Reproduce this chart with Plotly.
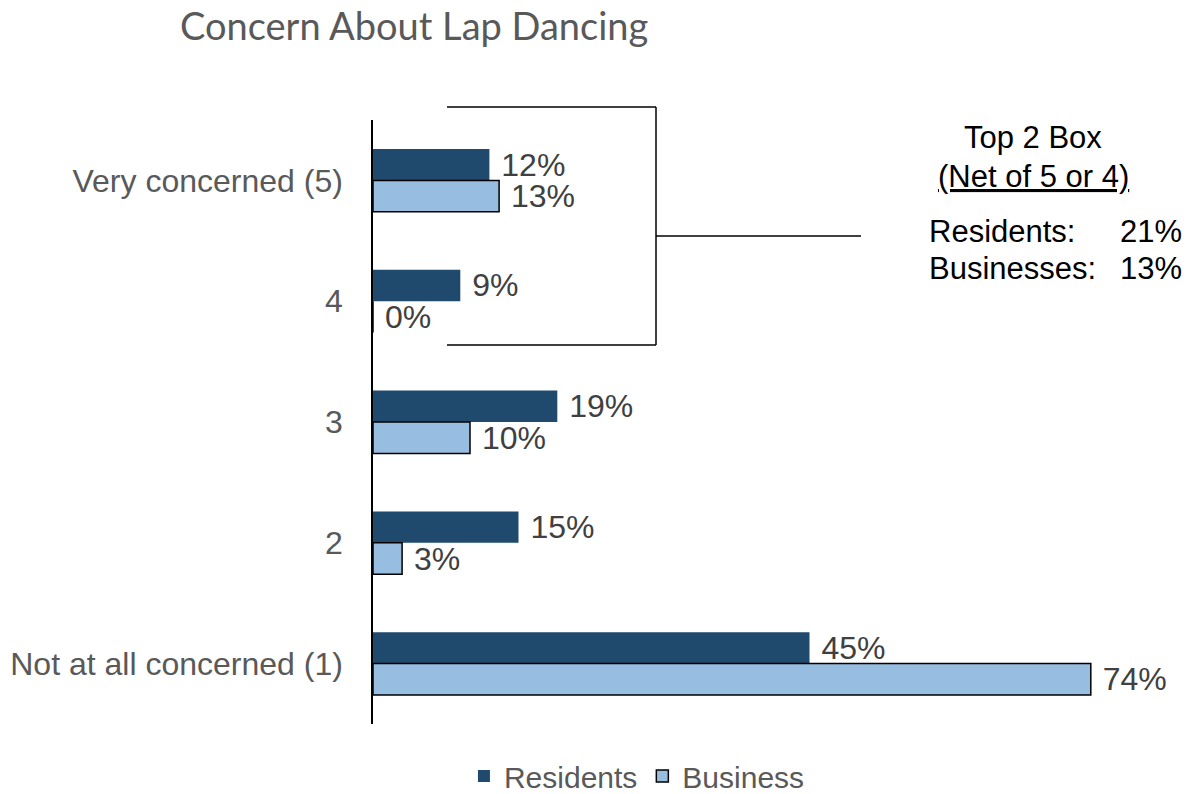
import plotly.graph_objects as go

categories = ["Very concerned (5)", "4", "3", "2", "Not at all concerned (1)"]
residents = [12, 9, 19, 15, 45]
business = [13, 0, 10, 3, 74]
top2_residents = 21
top2_business = 13

W, H = 1195, 794
L, R, T, B = 373, 46, 120, 70
pw = W - L - R
ph = H - T - B

def px(xpix):
    return (xpix - L) / pw

def py(ypix):
    return (H - B - ypix) / ph

FONT = "Liberation Sans, Arial, sans-serif"

fig = go.Figure()
fig.add_trace(go.Bar(
    y=categories, x=residents, orientation="h", name="Residents",
    marker=dict(color="#1F4A6E", line=dict(color="#1F4A6E", width=0)),
    text=[f"\u00a0{v}%" for v in residents], textposition="outside", constraintext="none",
    textfont=dict(family=FONT, size=32, color="#404040"), cliponaxis=False,
))
fig.add_trace(go.Bar(
    y=categories, x=business, orientation="h", name="Business",
    marker=dict(color="#97BDE0", line=dict(color="#000000", width=1.5)),
    text=[f"\u00a0{v}%" for v in business], textposition="outside", constraintext="none",
    textfont=dict(family=FONT, size=32, color="#404040"), cliponaxis=False,
))

fig.update_layout(
    width=W, height=H,
    margin=dict(l=L, r=R, t=T, b=B, autoexpand=False),
    paper_bgcolor="white", plot_bgcolor="white",
    barmode="group", bargap=0.48, bargroupgap=0.0,
    font=dict(family=FONT, size=31, color="#595959"),
    title=dict(text="Concern About Lap Dancing", xref="container", x=180 / W,
               xanchor="left", yref="container", y=1 - 27 / H, yanchor="middle",
               font=dict(family="Lato, Open Sans, sans-serif", size=38, color="#595959")),
    showlegend=True,
    legend=dict(orientation="h", xref="container", x=0.533, xanchor="center",
                yref="container", y=1 - 776 / H, yanchor="middle",
                font=dict(family=FONT, size=30, color="#595959"),
                itemwidth=30, bgcolor="rgba(0,0,0,0)"),
    xaxis=dict(range=[0, 80], visible=False, showgrid=False, zeroline=False),
    yaxis=dict(autorange="reversed", showline=True, linecolor="black", linewidth=1.5,
               showgrid=False, ticks="", ticklabelstandoff=22,
               tickfont=dict(family=FONT, size=32, color="#595959")),
)

line = dict(color="black", width=1.5)
fig.add_shape(type="line", xref="paper", yref="paper", x0=px(447), x1=px(656), y0=py(107), y1=py(107), line=line)
fig.add_shape(type="line", xref="paper", yref="paper", x0=px(447), x1=px(656), y0=py(345), y1=py(345), line=line)
fig.add_shape(type="line", xref="paper", yref="paper", x0=px(656), x1=px(656), y0=py(107), y1=py(345), line=line)
fig.add_shape(type="line", xref="paper", yref="paper", x0=px(656), x1=px(861), y0=py(236), y1=py(236), line=line)

box_font = dict(family=FONT, size=31, color="#000000")
fig.add_annotation(text="Top 2 Box", xref="paper", yref="paper", x=px(1033), y=py(137),
                   xanchor="center", yanchor="middle", showarrow=False, font=box_font)
fig.add_annotation(text="<u>(Net of 5 or 4)</u>", xref="paper", yref="paper", x=px(1033), y=py(176),
                   xanchor="center", yanchor="middle", showarrow=False, font=box_font)
fig.add_annotation(text="Residents:", xref="paper", yref="paper", x=px(927), y=py(231),
                   xanchor="left", yanchor="middle", showarrow=False, font=box_font)
fig.add_annotation(text=f"{top2_residents}%", xref="paper", yref="paper", x=px(1184), y=py(231),
                   xanchor="right", yanchor="middle", showarrow=False, font=box_font)
fig.add_annotation(text="Businesses:", xref="paper", yref="paper", x=px(927), y=py(268),
                   xanchor="left", yanchor="middle", showarrow=False, font=box_font)
fig.add_annotation(text=f"{top2_business}%", xref="paper", yref="paper", x=px(1184), y=py(268),
                   xanchor="right", yanchor="middle", showarrow=False, font=box_font)

fig.write_html("out.html", config={"displayModeBar": False},
               post_script="document.body.style.margin='0';")
